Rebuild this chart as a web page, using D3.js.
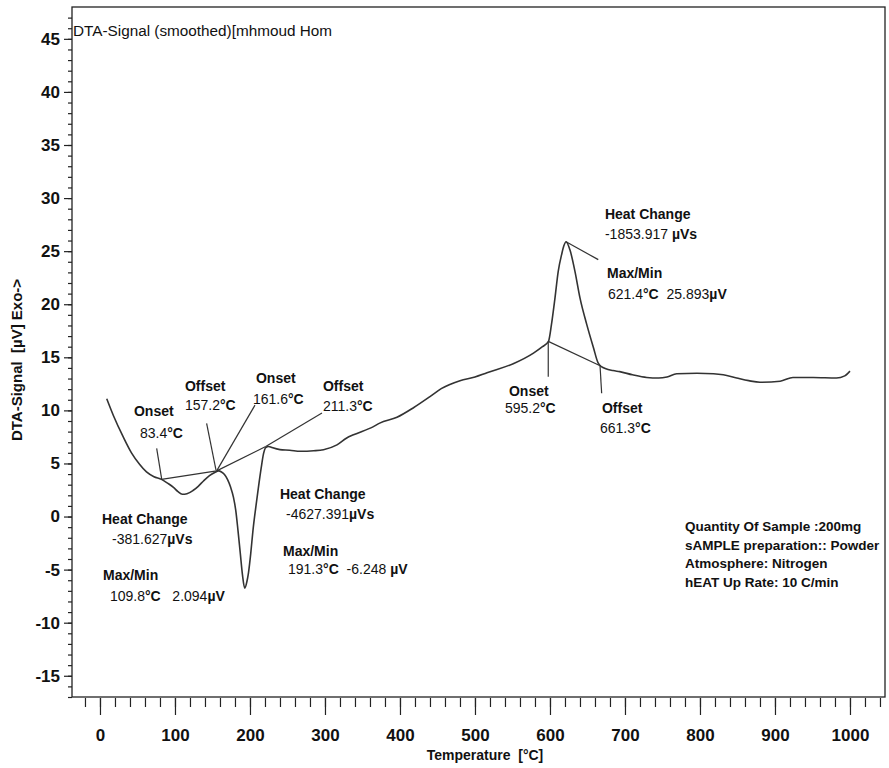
<!DOCTYPE html>
<html>
<head>
<meta charset="utf-8">
<script src="https://cdn.jsdelivr.net/npm/d3@7"></script>
<style>
  body { margin: 0; background: #fff; }
  svg { display: block; font-family: "Liberation Sans", Arial, sans-serif; }
  text { fill: #111; white-space: pre; }
</style>
</head>
<body>
<div id="chart"></div>
<script>
// DTA signal (temperature in °C, signal in µV)
const temperature = [9, 18, 31, 42, 53, 62, 72, 82, 90, 98, 104, 109.8, 116, 124, 131, 138, 146, 153, 158,
  162, 166, 170, 174, 178, 181, 184, 187, 190, 193, 196, 198, 201, 204, 208, 211, 215, 218, 221, 225,
  229, 240, 253, 267, 285, 298, 316, 329, 338, 364, 373, 396, 418, 440, 455, 480, 500, 516, 551, 578,
  590, 598, 602, 606.7, 611, 615.6, 618.5, 621.4, 626.7, 633.3, 640, 649, 658, 664, 668, 684, 693,
  710, 729, 745, 756, 769, 796, 818, 831, 849, 865, 880, 907, 924, 951, 982, 993, 1000];
const signal = [11.1, 9.5, 7.5, 6.0, 4.9, 4.2, 3.75, 3.5, 3.15, 2.75, 2.35, 2.1, 2.15, 2.45, 2.85, 3.35, 3.85, 4.15, 4.3,
  4.2, 3.95, 3.5, 2.8, 1.8, 0.6, -1.3, -3.4, -5.5, -6.75, -6.1, -5.3, -3.5, -1.3, 1.0, 2.6, 4.6, 5.9, 6.5, 6.6,
  6.5, 6.3, 6.25, 6.15, 6.2, 6.3, 6.75, 7.4, 7.7, 8.45, 8.8, 9.35, 10.25, 11.3, 12.05, 12.8, 13.15, 13.55, 14.4, 15.4,
  16.0, 16.5, 18.1, 20.6, 23.1, 24.7, 25.5, 25.89, 25.1, 23.1, 20.6, 18.1, 15.9, 14.5, 14.15, 13.75, 13.65,
  13.35, 13.1, 13.05, 13.15, 13.45, 13.5, 13.45, 13.35, 13.05, 12.8, 12.65, 12.75, 13.1, 13.1, 13.05, 13.25, 13.7];

// baselines and leader lines of the peak evaluation, [temperature, signal] pairs
const guideLines = [
  [[82, 3.5], [155.6, 4.3]],        // baseline peak 1
  [[155.6, 4.3], [221, 6.6]],       // baseline peak 2
  [[221, 6.6], [296, 9.75]],        // leader Offset 211.3
  [[75.6, 6.43], [82.3, 3.53]],     // leader Onset 83.4
  [[142.2, 8.78], [154.7, 4.38]],   // leader Offset 157.2
  [[155.6, 4.3], [206.7, 10.5]],    // leader Onset 161.6
  [[597.7, 16.5], [667.6, 14.18]],  // baseline peak 3
  [[597.7, 16.5], [597.7, 13.18]],  // leader Onset 595.2
  [[666.7, 14.28], [668.9, 11.61]], // leader Offset 661.3
  [[621.4, 25.89], [664.4, 24.2]]   // leader Heat Change peak 3
];

// annotation texts with their anchor in data units
const annotations = [
  { text: "Onset", t: 45.3, v: 9.47, bold: true },
  { text: "83.4°C", t: 53.3, v: 7.4 },
  { text: "Offset", t: 113.3, v: 11.83, bold: true },
  { text: "157.2°C", t: 113.3, v: 10.04 },
  { text: "Onset", t: 208, v: 12.58, bold: true },
  { text: "161.6°C", t: 204, v: 10.6 },
  { text: "Offset", t: 297.3, v: 11.83, bold: true },
  { text: "211.3°C", t: 297.3, v: 9.94 },
  { text: "Heat Change", t: 2.7, v: -0.71, bold: true },
  { text: "-381.627µVs", t: 16, v: -2.59 },
  { text: "Max/Min", t: 4, v: -5.98, bold: true },
  { text: "109.8°C   2.094µV", t: 13.3, v: -7.96 },
  { text: "Heat Change", t: 240, v: 1.65, bold: true },
  { text: "-4627.391µVs", t: 248, v: -0.24 },
  { text: "Max/Min", t: 244, v: -3.72, bold: true },
  { text: "191.3°C  -6.248 µV", t: 250.7, v: -5.42 },
  { text: "Heat Change", t: 673.3, v: 28.04, bold: true },
  { text: "-1853.917 µVs", t: 673.3, v: 26.15 },
  { text: "Max/Min", t: 676, v: 22.48, bold: true },
  { text: "621.4°C  25.893µV", t: 677.3, v: 20.5 },
  { text: "Onset", t: 545.3, v: 11.36, bold: true },
  { text: "595.2°C", t: 540, v: 9.75 },
  { text: "Offset", t: 669.3, v: 9.75, bold: true },
  { text: "661.3°C", t: 666.7, v: 7.87 }
];

const infoLines = [
  "Quantity Of Sample :200mg",
  "sAMPLE preparation:: Powder",
  "Atmosphere: Nitrogen",
  "hEAT Up Rate: 10 C/min"
];

const xMajor = d3.range(0, 1001, 100);
const xMinor = d3.range(-20, 1041, 20);
const yMajor = d3.range(-15, 46, 5);
const yMinor = d3.range(-17, 48, 1);

// layout
const W = 889, H = 768;
const margin = { top: 7, right: 4, bottom: 71, left: 72 };
const width = W - margin.left - margin.right;
const height = H - margin.top - margin.bottom;

const svg = d3.select("#chart").append("svg")
  .attr("width", W)
  .attr("height", H);

const g = svg.append("g")
  .attr("transform", `translate(${margin.left},${margin.top})`);

const x = d3.scaleLinear().domain([-37.3, 1046.7]).range([0, width]);
const y = d3.scaleLinear().domain([-17.0, 48.0]).range([height, 0]);

// frame
g.append("rect")
  .attr("width", width)
  .attr("height", height)
  .attr("fill", "none")
  .attr("stroke", "#222")
  .attr("stroke-width", 1.3);

const plain = d => String(d); // hyphen minus like the original

// x axis: minor then major
g.append("g")
  .attr("transform", `translate(0,${height + 1})`)
  .call(d3.axisBottom(x).tickValues(xMinor).tickSize(9).tickFormat(""))
  .call(a => a.select(".domain").remove());
const xAx = g.append("g")
  .attr("transform", `translate(0,${height + 1})`)
  .call(d3.axisBottom(x).tickValues(xMajor).tickSize(17).tickPadding(14).tickFormat(plain));
xAx.select(".domain").remove();
xAx.selectAll("text")
  .attr("font-size", 17).attr("font-weight", "bold")
  .attr("font-family", "'Liberation Sans', Arial, sans-serif");

// y axis: minor then major
g.append("g")
  .call(d3.axisLeft(y).tickValues(yMinor).tickSize(4).tickFormat(""))
  .call(a => a.select(".domain").remove());
const yAx = g.append("g")
  .call(d3.axisLeft(y).tickValues(yMajor).tickSize(8).tickPadding(4).tickFormat(plain));
yAx.select(".domain").remove();
yAx.selectAll("text")
  .attr("font-size", 17).attr("font-weight", "bold")
  .attr("font-family", "'Liberation Sans', Arial, sans-serif");
g.selectAll(".tick line").attr("stroke", "#222").attr("stroke-width", 1.2);

// axis titles
svg.append("text")
  .attr("x", 485).attr("y", 760)
  .attr("text-anchor", "middle")
  .attr("font-size", 14).attr("font-weight", "bold")
  .text("Temperature  [°C]");

svg.append("text")
  .attr("transform", "translate(22,360) rotate(-90)")
  .attr("text-anchor", "middle")
  .attr("font-size", 15).attr("font-weight", "bold")
  .text("DTA-Signal  [µV] Exo->");

// title inside the frame
g.append("text")
  .attr("x", 1).attr("y", 29)
  .attr("font-size", 15.3)
  .text("DTA-Signal (smoothed)[mhmoud Hom");

// guide lines
const seg = d3.line().x(d => x(d[0])).y(d => y(d[1]));
g.append("g").selectAll("path")
  .data(guideLines)
  .join("path")
  .attr("d", seg)
  .attr("fill", "none")
  .attr("stroke", "#333")
  .attr("stroke-width", 1.2);

// curve
const pts = temperature.map((t, i) => [t, signal[i]]);
g.append("path")
  .datum(pts)
  .attr("d", d3.line().x(d => x(d[0])).y(d => y(d[1])).curve(d3.curveMonotoneX))
  .attr("fill", "none")
  .attr("stroke", "#333")
  .attr("stroke-width", 1.6)
  .attr("stroke-linejoin", "round");

// annotations: numbers regular, units bold
const unitRe = /(°C|µVs|µV)/;
const ann = g.append("g").selectAll("text")
  .data(annotations)
  .join("text")
  .attr("x", d => x(d.t))
  .attr("y", d => y(d.v))
  .attr("font-size", 14);
ann.each(function(d) {
  const el = d3.select(this);
  if (d.bold) {
    el.attr("font-weight", "bold").text(d.text);
    return;
  }
  d.text.split(unitRe).filter(s => s.length).forEach(s => {
    el.append("tspan")
      .attr("font-weight", unitRe.test(s) ? "bold" : "normal")
      .text(s);
  });
});

// sample info block
svg.append("g")
  .attr("transform", "translate(685,531)")
  .selectAll("text")
  .data(infoLines)
  .join("text")
  .attr("y", (d, i) => i * 18.5)
  .attr("font-size", 13.5)
  .attr("font-weight", "bold")
  .text(d => d);
</script>
</body>
</html>
